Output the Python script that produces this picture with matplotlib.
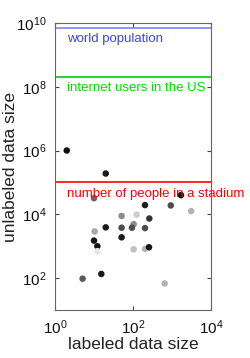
import numpy as np
import matplotlib.pyplot as plt

plt.rcParams['font.family'] = ['Liberation Sans', 'DejaVu Sans']

# labeled / unlabeled sizes of data sets, gray level of each marker
labeled = [2.0, 20, 10, 203, 930, 1700, 3100, 51, 124, 262, 20, 51, 104, 94,
           203, 10.4, 10, 12.2, 12.2, 51, 104, 203, 257, 15.4, 5.1, 650]
unlabeled = [1e6, 1.9e5, 3.2e4, 1.95e4, 1.9e4, 4e4, 1.26e4, 8.9e3, 9.8e3, 7.4e3,
             3.9e3, 3.8e3, 4.9e3, 3.8e3, 3.7e3, 2.9e3, 1.5e3, 1.0e3, 700, 1.9e3,
             800, 830, 930, 135, 96, 68]
gray = [0.05, 0.1, 0.4, 0.12, 0.3, 0.05, 0.7, 0.55, 0.8, 0.2,
        0.1, 0.3, 0.55, 0.3, 0.3, 0.65, 0.08, 0.08, 0.9, 0.1,
        0.75, 0.7, 0.08, 0.1, 0.35, 0.7]

ref_values = [6.8e9, 2.0e8, 1.0e5]
ref_labels = ["world population", "internet users in the US",
              "number of people in a stadium"]
ref_line_colors = ["#8080ff", "#00cc00", "#ff0000"]
ref_text_colors = ["#4040ff", "#00dd00", "#ff0000"]

fig = plt.figure(figsize=(2.5, 3.58), dpi=100)
ax = fig.add_axes([0.22, 0.134, 0.624, 0.802])

ax.scatter(labeled, unlabeled, s=22, c=[str(g) for g in gray], edgecolors='none', zorder=3)

for val, lab, lc, tc in zip(ref_values, ref_labels, ref_line_colors, ref_text_colors):
    ax.axhline(val, color=lc, linewidth=1.2, zorder=2)
    ax.text(2.0, val / 1.45, lab, color=tc, fontsize=9.5, va='top', ha='left',
            clip_on=False, zorder=4)

ax.set_xscale('log')
ax.set_yscale('log')
ax.set_xlim(1, 1e4)
ax.set_ylim(10, 1e10)
ax.set_xticks([1, 1e2, 1e4])
ax.set_yticks([1e2, 1e4, 1e6, 1e8, 1e10])
ax.minorticks_off()
ax.tick_params(direction='in', length=3, width=0.8, top=True, right=True,
               labelsize=11, colors='#444444', labelcolor='#111111', pad=6)
for s in ax.spines.values():
    s.set_color('#666666')
    s.set_linewidth(0.8)

ax.set_xlabel("labeled data size", fontsize=12.5, color='#222222', labelpad=0)
ax.set_ylabel("unlabeled data size", fontsize=12.5, color='#222222')
ax.yaxis.set_label_coords(-0.24, 0.5)

fig.savefig("out.png", dpi=100)
